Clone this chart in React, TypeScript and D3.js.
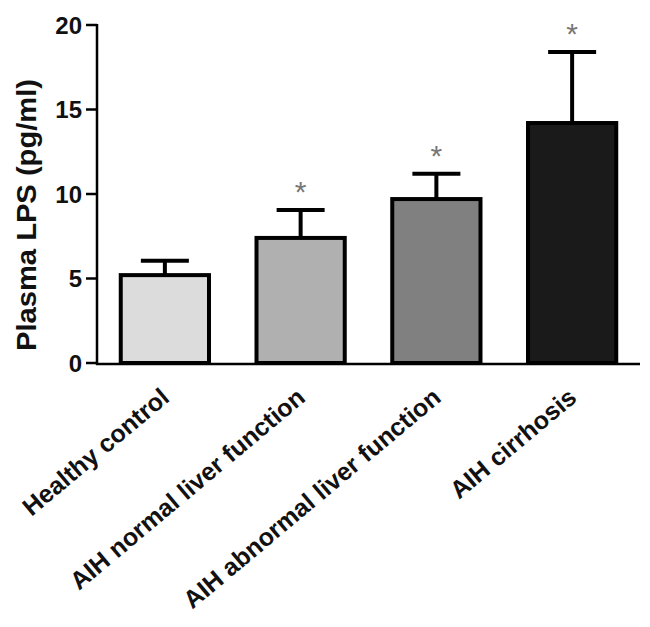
import React from "react";
import * as d3 from "d3";

const categories = [
  "Healthy control",
  "AIH normal liver function",
  "AIH abnormal liver function",
  "AIH cirrhosis",
];
const means = [5.2, 7.4, 9.7, 14.2];
const sems = [0.85, 1.65, 1.5, 4.2];
const significant = [false, true, true, true];
const fills = ["#dcdcdc", "#b0b0b0", "#808080", "#1a1a1a"];
const yTicks = [0, 5, 10, 15, 20];
const yLabel = "Plasma LPS (pg/ml)";

const W = 650;
const H = 627;
const FONT = "'Liberation Sans', Arial, Helvetica, sans-serif";

export default function App() {
  const x = d3
    .scaleBand<string>()
    .domain(categories)
    .range([97, 640])
    .paddingInner(0.35)
    .paddingOuter(0.175);
  const y = d3.scaleLinear().domain([0, 20]).range([363, 25]);
  const bw = x.bandwidth();
  const capW = 48;

  return (
    <svg
      width={W}
      height={H}
      style={{ position: "absolute", left: 0, top: 0, background: "#fff" }}
      fontFamily={FONT}
    >
      <rect width={W} height={H} fill="#fff" />
      {categories.map((c, i) => {
        const x0 = x(c)!;
        const cx = x0 + bw / 2;
        const top = y(means[i]);
        const capY = y(means[i] + sems[i]);
        return (
          <g key={c}>
            <line x1={cx} x2={cx} y1={top} y2={capY} stroke="#000" strokeWidth={4} />
            <line
              x1={cx - capW / 2}
              x2={cx + capW / 2}
              y1={capY}
              y2={capY}
              stroke="#000"
              strokeWidth={4}
            />
            <rect
              x={x0}
              y={top}
              width={bw}
              height={y(0) - top}
              fill={fills[i]}
              stroke="#000"
              strokeWidth={4}
            />
            {significant[i] && (
              <text
                x={cx}
                y={capY - 8}
                textAnchor="middle"
                fontSize={30}
                fill="#777"
              >
                *
              </text>
            )}
          </g>
        );
      })}
      <line x1={97} x2={97} y1={y(20) - 1} y2={y(0) + 2} stroke="#000" strokeWidth={2.5} />
      <line x1={96} x2={640} y1={y(0) + 1} y2={y(0) + 1} stroke="#000" strokeWidth={2.5} />
      {yTicks.map((t) => (
        <g key={t}>
          <line x1={86} x2={97} y1={y(t)} y2={y(t)} stroke="#000" strokeWidth={2.5} />
          <text
            x={82}
            y={y(t)}
            textAnchor="end"
            dominantBaseline="central"
            fontSize={24}
            fontWeight="bold"
            fill="#111"
          >
            {t}
          </text>
        </g>
      ))}
      <text
        transform={`translate(36, 215) rotate(-90)`}
        textAnchor="middle"
        fontSize={27}
        fontWeight="bold"
        fill="#111"
        textLength={272}
        lengthAdjust="spacingAndGlyphs"
      >
        {yLabel}
      </text>
      {categories.map((c) => {
        const cx = x(c)! + bw / 2;
        return (
          <text
            key={c}
            transform={`translate(${cx + 6}, 400) rotate(-40)`}
            textAnchor="end"
            fontSize={25}
            fontWeight="bold"
            fill="#111"
          >
            {c}
          </text>
        );
      })}
    </svg>
  );
}
